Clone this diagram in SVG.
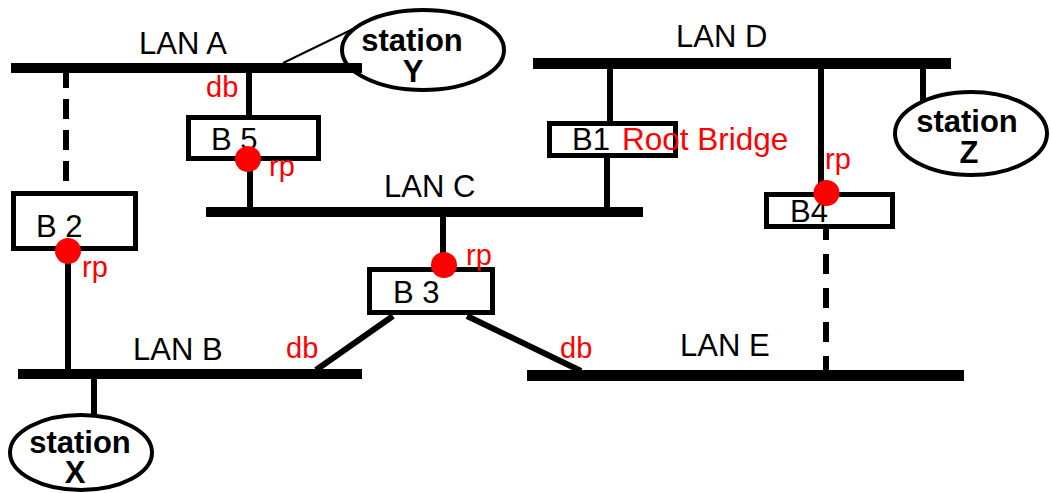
<svg xmlns="http://www.w3.org/2000/svg" width="1051" height="493" viewBox="0 0 1051 493">
<style>
.lan{fill:#000}
.lbl{font-family:"Liberation Sans",Arial,sans-serif;font-size:31px;fill:#000}
.red{font-family:"Liberation Sans",Arial,sans-serif;font-size:29px;fill:#ff0000}
.st{font-family:"Liberation Sans",Arial,sans-serif;font-size:31px;font-weight:bold;fill:#000;text-anchor:middle}
.box{fill:#fff;stroke:#000;stroke-width:5}
.ell{fill:#fff;stroke:#000;stroke-width:4}
.c{stroke:#000;stroke-width:6;fill:none}
.d{stroke:#000;stroke-width:6;fill:none}
.dot{fill:#ff0000}
</style>
<rect width="1051" height="493" fill="#fff"/>
<g id="connectors">
<line class="c" x1="249" y1="73" x2="249" y2="117"/>
<line class="c" x1="250" y1="159" x2="250" y2="207"/>
<line class="d" x1="66" y1="68" x2="66" y2="182" stroke-dasharray="20 11"/>
<line class="c" x1="68" y1="251" x2="68" y2="369"/>
<line class="c" x1="94" y1="379" x2="94" y2="415"/>
<line class="c" x1="443" y1="217" x2="443" y2="267"/>
<line class="c" x1="393" y1="316" x2="316" y2="370" stroke-width="5"/>
<line class="c" x1="467" y1="316" x2="581" y2="371" stroke-width="5"/>
<line class="c" x1="610" y1="69" x2="610" y2="123"/>
<line class="c" x1="607" y1="156" x2="607" y2="207"/>
<line class="c" x1="821" y1="69" x2="821" y2="193"/>
<line class="d" x1="826" y1="220" x2="826" y2="375" stroke-dasharray="20 14"/>
<line class="c" x1="923" y1="69" x2="923" y2="101"/>
<line x1="283" y1="63" x2="353" y2="29" stroke="#000" stroke-width="2"/>
</g>
<g id="stationY">
<ellipse class="ell" cx="423" cy="50" rx="81" ry="40"/>
<text class="st" x="412" y="51">station</text>
<text class="st" x="413" y="82">Y</text>
</g>
<g id="stationZ">
<ellipse class="ell" cx="971" cy="133.5" rx="76" ry="41.5"/>
<text class="st" x="967" y="132">station</text>
<text class="st" x="969" y="163">Z</text>
</g>
<g id="stationX">
<ellipse class="ell" cx="81" cy="452.5" rx="71" ry="37.5"/>
<text class="st" x="80" y="453">station</text>
<text class="st" x="75" y="483">X</text>
</g>
<g id="lanA">
<rect class="lan" x="11" y="63" width="351" height="10"/>
<text class="lbl" x="139" y="54">LAN A</text>
</g>
<g id="lanD">
<rect class="lan" x="533" y="58" width="418" height="11"/>
<text class="lbl" x="676" y="47">LAN D</text>
</g>
<g id="lanC">
<rect class="lan" x="206" y="207" width="437" height="10"/>
<text class="lbl" x="384" y="197">LAN C</text>
</g>
<g id="lanB">
<rect class="lan" x="18" y="369" width="344" height="10"/>
<text class="lbl" x="133" y="360">LAN B</text>
</g>
<g id="lanE">
<rect class="lan" x="527" y="370" width="437" height="11"/>
<text class="lbl" x="680" y="356">LAN E</text>
</g>
<g id="B5">
<rect class="box" x="188.5" y="117.5" width="130" height="41"/>
<text class="lbl" x="211" y="150">B 5</text>
<circle class="dot" cx="248" cy="159" r="13"/>
<text class="red" x="269" y="176">rp</text>
<text class="red" x="206" y="97">db</text>
</g>
<g id="B2">
<rect class="box" x="13.5" y="193.5" width="122" height="55"/>
<text class="lbl" x="36" y="237">B 2</text>
<circle class="dot" cx="68" cy="251" r="13"/>
<text class="red" x="82" y="277">rp</text>
</g>
<g id="B1">
<rect class="box" x="549.5" y="123.5" width="126" height="32"/>
<text class="lbl" x="572" y="150">B1</text>
<text class="red" x="622" y="150" style="font-size:31.5px">Root Bridge</text>
</g>
<g id="B3">
<rect class="box" x="369.5" y="269.5" width="123" height="43"/>
<text class="lbl" x="393" y="303">B 3</text>
<circle class="dot" cx="444" cy="265" r="13"/>
<text class="red" x="466" y="265">rp</text>
<text class="red" x="286" y="358">db</text>
<text class="red" x="560" y="358">db</text>
</g>
<g id="B4">
<rect class="box" x="766.5" y="194.5" width="126" height="32"/>
<text class="lbl" x="790" y="222">B4</text>
<circle class="dot" cx="826.5" cy="193" r="13"/>
<text class="red" x="825" y="169">rp</text>
</g>
</svg>
